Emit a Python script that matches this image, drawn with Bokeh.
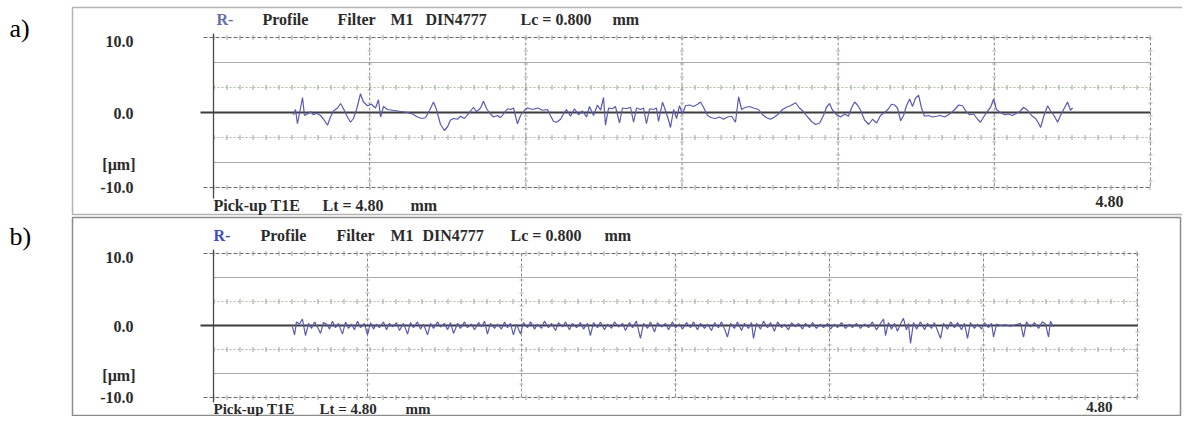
from bokeh.plotting import figure
from bokeh.models import Range1d
from bokeh.core.properties import value
from bokeh.embed import file_html
from bokeh.resources import INLINE

# ---------------- data ----------------
# panel a) profile: x in mm, y in micrometres
A_X = [0.410, 0.420, 0.430, 0.446, 0.456, 0.466, 0.482, 0.497, 0.512, 0.528,
       0.548, 0.564, 0.584, 0.599, 0.615, 0.635, 0.651, 0.666, 0.686, 0.702,
       0.717, 0.733, 0.753, 0.768, 0.789, 0.809, 0.830, 0.845, 0.856, 0.871,
       0.891, 0.917, 0.943, 0.968, 0.994, 1.019, 1.045, 1.066, 1.086, 1.107,
       1.127, 1.142, 1.163, 1.183, 1.199, 1.214, 1.230, 1.250, 1.265, 1.286,
       1.301, 1.317, 1.332, 1.347, 1.368, 1.383, 1.399, 1.419, 1.434, 1.455,
       1.470, 1.491, 1.506, 1.522, 1.537, 1.557, 1.573, 1.593, 1.609, 1.634,
       1.660, 1.685, 1.711, 1.726, 1.742, 1.757, 1.778, 1.793, 1.808, 1.829,
       1.849, 1.870, 1.890, 1.911, 1.926, 1.947, 1.967, 1.983, 1.998, 2.008,
       2.024, 2.044, 2.059, 2.080, 2.095, 2.116, 2.136, 2.152, 2.167, 2.187,
       2.203, 2.218, 2.234, 2.254, 2.269, 2.280, 2.300, 2.316, 2.331, 2.341,
       2.357, 2.372, 2.387, 2.403, 2.418, 2.439, 2.459, 2.480, 2.495, 2.510,
       2.531, 2.551, 2.572, 2.592, 2.613, 2.633, 2.654, 2.674, 2.690, 2.705,
       2.725, 2.746, 2.766, 2.792, 2.813, 2.833, 2.853, 2.874, 2.894, 2.915,
       2.935, 2.955, 2.982, 3.002, 3.023, 3.043, 3.064, 3.084, 3.105, 3.125,
       3.140, 3.156, 3.171, 3.192, 3.212, 3.233, 3.253, 3.268, 3.284, 3.299,
       3.315, 3.335, 3.356, 3.376, 3.397, 3.417, 3.438, 3.458, 3.473, 3.489,
       3.504, 3.520, 3.535, 3.550, 3.566, 3.581, 3.596, 3.612, 3.627, 3.642,
       3.663, 3.683, 3.704, 3.724, 3.745, 3.765, 3.781, 3.801, 3.817, 3.837,
       3.853, 3.873, 3.894, 3.914, 3.929, 3.945, 3.965, 3.981, 3.996, 4.011,
       4.032, 4.052, 4.073, 4.093, 4.114, 4.134, 4.150, 4.170, 4.191, 4.211,
       4.226, 4.237, 4.252, 4.273, 4.288, 4.308, 4.324, 4.339, 4.355, 4.375,
       4.390, 4.401]
A_Y = [-0.3, 0.4, -1.5, 0.6, 2.0, -0.4, -0.2, 0.1, -0.3, -0.1,
       -0.4, -0.9, -1.7, -0.6, 0.2, 0.6, 1.2, 0.5, -0.6, -1.3,
       -0.8, 0.4, 2.5, 1.4, 0.9, 1.1, 0.6, 1.7, -0.6, 0.8,
       0.4, 0.3, 0.2, 0.1, 0.0, -0.2, -0.6, -0.8, -0.7, 0.3,
       1.4, 0.4, -1.6, -2.4, -1.9, -1.0, -0.8, -0.9, -0.5, -0.8,
       -0.3, 0.2, 0.7, 0.1, 0.6, 1.5, 0.5, -0.2, -0.6, -0.4,
       -0.7, 0.0, 0.5, 0.4, 0.6, -1.5, -0.4, 0.3, 0.6, 0.4,
       0.6, 0.3, 0.4, -0.4, -1.2, -1.3, -0.9, -0.2, 0.4, -0.5,
       0.5, -0.3, 0.2, -0.6, 0.8, -0.4, 1.0, 0.3, 2.0, -1.7,
       0.6, 0.5, 0.8, -1.4, 0.6, 0.5, 0.7, -1.3, 0.6, 0.4,
       0.6, -1.5, 0.5, 0.4, 0.6, -1.2, 1.4, 0.2, -1.0, -2.0,
       0.4, -0.8, 0.9, -0.2, 0.9, 1.0, 0.8, 1.1, 1.4, 0.7,
       -0.4, -0.7, -0.8, -0.6, -0.9, -0.6, -0.5, -1.3, 2.1, 0.4,
       0.7, 0.8, 0.6, 0.4, -0.3, -0.7, -0.9, -0.6, -0.2, 0.4,
       0.7, 0.9, 1.3, 0.6, 0.1, -0.6, -1.2, -1.6, -1.4, -0.4,
       0.7, 1.2, 0.3, -0.3, -0.6, -0.2, -0.5, 0.6, 1.4, 1.0,
       0.3, -1.0, -1.6, -0.9, -1.4, -0.4, 0.0, 0.5, 1.1, 1.0,
       0.6, -1.1, -0.4, 0.9, 1.8, 0.8, 1.9, 2.3, 0.6, -0.5,
       -0.4, -0.6, -0.5, -0.4, -0.6, -0.3, 0.0, 0.5, 1.0, 0.9,
       0.2, -0.3, -0.2, -0.9, -1.3, -0.6, 0.2, 0.7, 1.8, 0.4,
       0.0, -0.3, -0.2, -0.4, -0.1, 0.2, 0.7, 0.3, -0.4, -0.8,
       -1.4, -2.0, -0.6, 0.9, 0.2, -0.5, -1.3, -0.4, 0.4, 1.4,
       0.3, 0.6]

# panel b) profile
B_X = [0.410, 0.421, 0.431, 0.447, 0.462, 0.478, 0.494, 0.509, 0.525, 0.540,
       0.556, 0.571, 0.587, 0.603, 0.618, 0.634, 0.649, 0.670, 0.686, 0.701,
       0.717, 0.732, 0.748, 0.764, 0.784, 0.800, 0.816, 0.831, 0.847, 0.862,
       0.883, 0.899, 0.914, 0.930, 0.951, 0.966, 0.987, 1.008, 1.023, 1.039,
       1.060, 1.075, 1.091, 1.112, 1.127, 1.143, 1.164, 1.179, 1.200, 1.216,
       1.231, 1.247, 1.268, 1.283, 1.304, 1.319, 1.340, 1.356, 1.377, 1.392,
       1.408, 1.423, 1.439, 1.460, 1.475, 1.496, 1.512, 1.527, 1.543, 1.558,
       1.574, 1.595, 1.610, 1.631, 1.647, 1.668, 1.683, 1.704, 1.719, 1.740,
       1.756, 1.777, 1.792, 1.813, 1.829, 1.849, 1.865, 1.886, 1.906, 1.922,
       1.943, 1.958, 1.974, 1.995, 2.010, 2.031, 2.047, 2.068, 2.083, 2.104,
       2.125, 2.140, 2.161, 2.177, 2.197, 2.218, 2.234, 2.255, 2.270, 2.291,
       2.306, 2.327, 2.348, 2.364, 2.384, 2.400, 2.421, 2.436, 2.457, 2.478,
       2.494, 2.514, 2.530, 2.551, 2.566, 2.587, 2.603, 2.623, 2.639, 2.655,
       2.670, 2.686, 2.706, 2.722, 2.743, 2.758, 2.779, 2.795, 2.805, 2.821,
       2.842, 2.857, 2.878, 2.894, 2.914, 2.930, 2.951, 2.966, 2.987, 3.003,
       3.023, 3.039, 3.060, 3.075, 3.096, 3.112, 3.132, 3.153, 3.169, 3.190,
       3.205, 3.226, 3.242, 3.262, 3.283, 3.304, 3.319, 3.340, 3.361, 3.382,
       3.403, 3.423, 3.444, 3.465, 3.481, 3.491, 3.506, 3.522, 3.538, 3.553,
       3.569, 3.584, 3.600, 3.610, 3.621, 3.636, 3.652, 3.673, 3.694, 3.709,
       3.730, 3.745, 3.761, 3.777, 3.792, 3.813, 3.829, 3.849, 3.865, 3.886,
       3.901, 3.917, 3.932, 3.953, 3.969, 3.990, 4.005, 4.026, 4.042, 4.052,
       4.068, 4.088, 4.114, 4.140, 4.166, 4.192, 4.208, 4.223, 4.244, 4.265,
       4.286, 4.306, 4.322, 4.338, 4.348, 4.364]
B_Y = [-0.2, -1.3, 0.5, 0.2, 0.9, -1.4, 0.3, -0.4, 0.5, -0.2,
       -1.1, 0.4, 0.2, -0.5, 0.6, -0.3, 0.3, -1.2, 0.5, -0.4,
       0.2, -0.6, 0.6, -0.3, 0.3, -1.3, 0.4, -0.5, 0.2, -0.3,
       0.5, -0.6, 0.3, -0.2, 0.4, -0.7, 0.3, -1.2, 0.4, -0.3,
       0.5, -0.5, 0.2, -1.3, 0.3, -0.4, 0.5, -0.2, 0.3, -0.6,
       0.4, -1.1, 0.3, -0.4, 0.5, -0.3, 0.2, -0.6, 0.4, -0.2,
       0.6, -1.2, 0.3, -0.4, 0.2, -0.5, 0.5, -0.3, 0.3, -1.3,
       0.2, -1.2, 0.4, -0.3, 0.5, -0.5, 0.2, -0.4, 0.6, -0.3,
       0.3, -0.7, 0.4, -0.2, 0.5, -0.6, 0.3, -0.3, 0.4, -0.5,
       0.3, -1.4, 0.4, -0.3, 0.5, -0.6, 0.2, -0.4, 0.5, -0.2,
       0.3, -0.7, 0.4, -0.3, 0.6, -1.8, 0.3, -0.4, 0.5, -0.9,
       0.4, -0.2, 0.3, -0.6, 0.5, -0.3, 0.2, -0.5, 0.4, -0.3,
       0.5, -0.6, 0.3, -0.4, 0.2, -0.7, 0.4, -0.3, 0.5, -0.5,
       -1.6, 0.3, -0.4, 0.5, -0.7, 0.3, -0.4, 0.4, -1.8, 0.3,
       -0.5, 0.6, -0.3, 0.4, -0.8, 0.5, -0.3, 0.2, -0.6, 0.4,
       -0.2, 0.3, -0.5, 0.3, -0.3, 0.4, -0.4, 0.2, -0.3, 0.3,
       -0.5, 0.2, -0.3, 0.4, -0.4, 0.2, -0.3, 0.3, -0.4, 0.2,
       -0.3, 0.5, -0.6, 0.3, 0.9, -1.4, 0.4, -0.5, 0.3, -0.8,
       0.2, 1.0, -0.6, 0.3, -2.5, 0.4, -0.5, 0.5, -0.6, 0.3,
       -0.4, 0.4, -0.7, -1.8, 0.3, -0.5, 0.5, -0.3, 0.4, -0.6,
       0.3, -1.8, 0.4, -0.4, 0.2, -0.5, 0.4, -0.3, 0.3, -1.6,
       0.2, 0.0, 0.1, -0.1, 0.1, 0.3, -1.6, 0.5, -0.2, 0.4,
       -0.4, 0.5, 0.2, -1.6, 0.6, -0.2]

Y_TICKS = [10.0, 0.0, -10.0]
Y_TICK_LABELS = ["10.0", "0.0", "-10.0"]
Y_UNIT = "[µm]"
Y_LIMITS = [10.0, -10.0]
Y_GRID_SOLID = [20 / 3, -20 / 3]
Y_GRID_DOT_UP = [10 / 3]
Y_GRID_DOT_DN = [-10 / 3]
X_GRID = [0.8, 1.6, 2.4, 3.2, 4.0, 4.8]
LT = 4.80          # traverse length, mm
LC = 0.800         # cut-off, mm
HEADER_WORDS = ["R-", "Profile", "Filter", "M1", "DIN4777", f"Lc = {LC:.3f}", "mm"]
FOOTER_WORDS = ["Pick-up T1E", f"Lt = {LT:.2f}", "mm"]
END_LABEL = f"{LT:.2f}"
PANEL_TAGS = ["a)", "b)"]

# ---------------- layout (pixels) ----------------
W, H = 1182, 416
TICK_LABEL_DY = [4, 1, 0]

PANELS = [
    dict(tag=PANEL_TAGS[0], name="a", xs=A_X, ys=A_Y,
         x0=213, xend=1150, y0=112, y10=37, axis_ext=11,
         box=(72, 7, 1197, 214), box_color="#b4b4b4",
         tag_xy=(9, 28), header_y=19, header_x=[216, 262, 337, 390, 425, 520, 612],
         footer_y=205, footer_fs="16px", footer_x=[213, 322, 410], end_off=(-27, 14),
         r_color="#6870a8"),
    dict(tag=PANEL_TAGS[1], name="b", xs=B_X, ys=B_Y,
         x0=213, xend=1137, y0=325, y10=253, axis_ext=5,
         box=(72, 217, 1180, 415), box_color="#8c8c8c",
         tag_xy=(9, 236), header_y=235, header_x=[213, 260, 336, 390, 422, 510, 604],
         footer_y=408, footer_fs="15px", footer_x=[213, 319, 405], end_off=(-25, 9),
         r_color="#3f4fc0"),
]

p = figure(width=W, height=H, x_range=Range1d(0, W), y_range=Range1d(H, 0),
           x_axis_type=None, y_axis_type=None, toolbar_location=None, min_border=0,
           output_backend="svg", title=None)
p.outline_line_color = None
p.background_fill_color = "white"
p.border_fill_color = "white"

xr, yr = {}, {}
for P in PANELS:
    sx = (P["xend"] - P["x0"]) / LT
    sy = (P["y0"] - P["y10"]) / 10.0
    P["sx"], P["sy"] = sx, sy
    xr[P["name"] + "x"] = Range1d((0 - P["x0"]) / sx, (W - P["x0"]) / sx)
    yr[P["name"] + "y"] = Range1d((P["y0"] - H) / sy, (P["y0"] - 0) / sy)
p.extra_x_ranges = xr
p.extra_y_ranges = yr

SERIF = value("Liberation Serif")
TXT = "#2b2b2b"
FS = "16px"

for P in PANELS:
    rn = dict(x_range_name=P["name"] + "x", y_range_name=P["name"] + "y")
    sx, sy = P["sx"], P["sy"]
    # panel frame
    l, t, r, b = P["box"]
    p.quad(left=[l], right=[r], top=[t], bottom=[b], fill_alpha=0,
           line_color=P["box_color"], line_width=1.5)
    # horizontal grid
    p.segment(x0=[0] * 2, x1=[LT] * 2, y0=Y_GRID_SOLID, y1=Y_GRID_SOLID,
              line_color="#ababab", line_width=1.2, **rn)
    p.segment(x0=[0], x1=[LT], y0=Y_GRID_DOT_UP, y1=Y_GRID_DOT_UP,
              line_color="#a9c49c", line_width=1.2, line_dash="2 2", **rn)
    p.segment(x0=[0], x1=[LT], y0=Y_GRID_DOT_DN, y1=Y_GRID_DOT_DN,
              line_color="#b0b0b0", line_width=1.2, line_dash="2 2", **rn)
    p.segment(x0=[-10 / sx] * 2, x1=[LT] * 2, y0=Y_LIMITS, y1=Y_LIMITS,
              line_color="#6a6a6a", line_width=1, line_dash="4 2", **rn)
    # tick marks along horizontal lines
    for yy in Y_LIMITS + Y_GRID_DOT_UP + Y_GRID_DOT_DN:
        p.segment(x0=[0], x1=[LT], y0=[yy], y1=[yy], line_color="#a0a0a0",
                  line_width=5, line_dash="1 12", **rn)
    # vertical grid
    p.segment(x0=X_GRID, x1=X_GRID, y0=[Y_LIMITS[0]] * len(X_GRID), y1=[Y_LIMITS[1]] * len(X_GRID),
              line_color="#8a8a8a", line_width=1, line_dash="3 2", **rn)
    p.segment(x0=X_GRID, x1=X_GRID, y0=[Y_LIMITS[0]] * len(X_GRID), y1=[Y_LIMITS[1]] * len(X_GRID),
              line_color="#b0b0b0", line_width=4, line_dash="1 12", **rn)
    # left axis and zero line
    p.segment(x0=[0], x1=[0], y0=[Y_LIMITS[0] + 4 / sy], y1=[Y_LIMITS[1] - P["axis_ext"] / sy],
              line_color="#4a4a4a", line_width=1.3, **rn)
    p.segment(x0=[-13 / sx], x1=[LT], y0=[0], y1=[0], line_color="#3c3c3c", line_width=1.8, **rn)
    # profile
    p.line(P["xs"], P["ys"], line_color="#5a5ab0", line_width=1.2, **rn)
    # y tick labels + unit
    p.text(x=[0] * 3, y=Y_TICKS, text=Y_TICK_LABELS, x_offset=-80, y_offset=TICK_LABEL_DY,
           text_align="right", text_baseline="middle", text_font=SERIF, text_font_style="bold",
           text_font_size=FS, text_color=TXT, **rn)
    p.text(x=[0], y=[Y_GRID_SOLID[1]], text=[Y_UNIT], x_offset=-78, y_offset=2,
           text_align="right", text_baseline="middle", text_font=SERIF, text_font_style="bold",
           text_font_size=FS, text_color=TXT, **rn)
    # end-of-traverse label
    p.text(x=[LT], y=[Y_LIMITS[1]], text=[END_LABEL], x_offset=P["end_off"][0], y_offset=P["end_off"][1],
           text_align="right", text_baseline="middle", text_font=SERIF, text_font_style="bold",
           text_font_size=P["footer_fs"], text_color=TXT, **rn)
    # header and footer
    p.text(x=P["header_x"][1:], y=[P["header_y"]] * (len(HEADER_WORDS) - 1), text=HEADER_WORDS[1:],
           text_align="left", text_baseline="middle", text_font=SERIF, text_font_style="bold",
           text_font_size=FS, text_color=TXT)
    p.text(x=P["header_x"][:1], y=[P["header_y"]], text=HEADER_WORDS[:1],
           text_align="left", text_baseline="middle", text_font=SERIF, text_font_style="bold",
           text_font_size=FS, text_color=P["r_color"])
    p.text(x=P["footer_x"], y=[P["footer_y"]] * len(FOOTER_WORDS), text=FOOTER_WORDS,
           text_align="left", text_baseline="middle", text_font=SERIF, text_font_style="bold",
           text_font_size=P["footer_fs"], text_color=TXT)
    # panel tag
    p.text(x=[P["tag_xy"][0]], y=[P["tag_xy"][1]], text=[P["tag"]], text_align="left",
           text_baseline="middle", text_font=SERIF, text_font_size="26px", text_color="#000000")

open("out.html", "w").write(file_html(p, INLINE))
